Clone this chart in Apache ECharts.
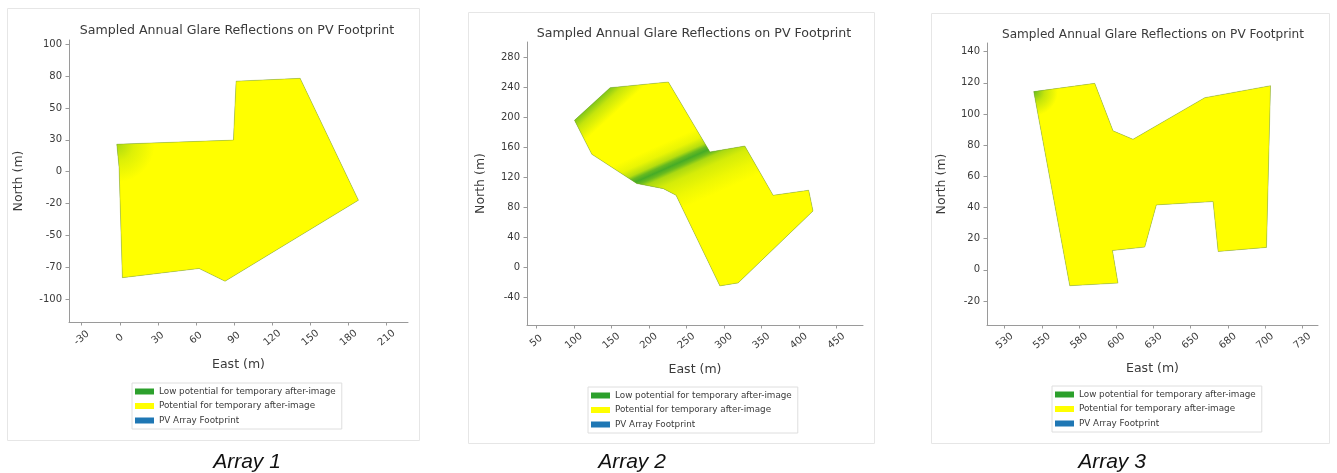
<!DOCTYPE html>
<html>
<head>
<meta charset="utf-8">
<script src="https://cdn.jsdelivr.net/npm/echarts@6/dist/echarts.min.js"></script>
<style>
  html, body { margin: 0; padding: 0; background: #ffffff; }
  #chart { width: 1337px; height: 473px; }
</style>
</head>
<body>
<div id="chart"></div>
<script>
// ---- Array 1 ----
const array1Footprint = [[-2.4, 21.6], [89.4, 24.8], [91.5, 71.1], [141.9, 73.3], [187.8, -22.4],
  [82.8, -86], [62.4, -76], [2, -83.2], [-0.6, 3.5]];
const array1LowGlareSpot = [-2.4, 21.6];
const array1XTicks = [-30, 0, 30, 60, 90, 120, 150, 180, 210];
const array1XLabels = ['-30', '0', '30', '60', '90', '120', '150', '180', '210'];
const array1YTicks = [-100, -75, -50, -25, 0, 25, 50, 75, 100];
const array1YLabels = ['-100', '-70', '-50', '-20', '0', '30', '50', '80', '100'];

// ---- Array 2 ----
const array2Footprint = [[100.9, 195.9], [148.4, 239.3], [226, 246.8], [281.4, 153.8], [327.9, 161.7],
  [365.6, 96.2], [413, 102.9], [418.8, 75.3], [319, -20.3], [294.7, -24.3], [236.2, 96.2],
  [219.3, 105], [183.9, 111.8], [124, 150.7]];
const array2LowGlareBand = [[199.6, 208.9], [264.8, 63.1]];
const array2LowGlareEdge = [[100.9, 195.9], [148.4, 239.3]];
const array2XTicks = [50, 100, 150, 200, 250, 300, 350, 400, 450];
const array2XLabels = ['50', '100', '150', '200', '250', '300', '350', '400', '450'];
const array2YTicks = [-40, 0, 40, 80, 120, 160, 200, 240, 280];
const array2YLabels = ['-40', '0', '40', '80', '120', '160', '200', '240', '280'];

// ---- Array 3 ----
const array3Footprint = [[544.5, 114.4], [585.5, 119.7], [597.8, 89.2], [611.2, 83.8], [659.4, 110.5],
  [703.6, 118.2], [700.9, 14.4], [668.4, 11.8], [665, 43.8], [626.9, 41.7], [619.1, 14.6],
  [597.4, 12.4], [601.1, -8.5], [568.7, -10.2]];
const array3LowGlareSpot = [544.5, 114.4];
const array3XTicks = [525, 550, 575, 600, 625, 650, 675, 700, 725];
const array3XLabels = ['530', '550', '580', '600', '630', '650', '680', '700', '730'];
const array3YTicks = [-20, 0, 20, 40, 60, 80, 100, 120, 140];
const array3YLabels = ['-20', '0', '20', '40', '60', '80', '100', '120', '140'];

const captions = ['Array 1', 'Array 2', 'Array 3'];
const legendNames = ['Low potential for temporary after-image', 'Potential for temporary after-image', 'PV Array Footprint'];
const chartTitle = 'Sampled Annual Glare Reflections on PV Footprint';

const GREEN = '#2ca02c', YELLOW = '#ffff00', BLUE = '#1f77b4';
const FONT = 'DejaVu Sans';
const TEXT = '#3a3a3a', AXIS = '#9a9a9a';

const g = (a) => 'rgba(44,160,44,' + a + ')';

// panel geometry (pixels)
const panels = [
  { grid: { left: 69, top: 40, width: 339, height: 282 }, x: [-40, 226.8], y: [-118, 103.4],
    xt: array1XTicks, xl: array1XLabels, yt: array1YTicks, yl: array1YLabels,
    titleX: 232, titleY: 19, titleSize: 12.6, xGap: 36, yGap: 44,
    legend: { left: 132, top: 383 }, frame: [7, 8, 412, 432], caption: [247, 462] },
  { grid: { left: 527, top: 42, width: 336, height: 283 }, x: [37.6, 485.4], y: [-76.3, 300],
    xt: array2XTicks, xl: array2XLabels, yt: array2YTicks, yl: array2YLabels,
    titleX: 689, titleY: 22, titleSize: 12.6, xGap: 38, yGap: 40,
    legend: { left: 588, top: 387 }, frame: [468, 12, 406, 431], caption: [632, 462] },
  { grid: { left: 987, top: 43, width: 331, height: 282 }, x: [513.1, 735.5], y: [-35.4, 145.6],
    xt: array3XTicks, xl: array3XLabels, yt: array3YTicks, yl: array3YLabels,
    titleX: 1148, titleY: 24, titleSize: 12.1, xGap: 37, yGap: 39,
    legend: { left: 1052, top: 386 }, frame: [931, 13, 398, 430], caption: [1112, 462] }
];

function labelFor(ticks, labels) {
  return function (v) {
    let best = 0;
    for (let i = 1; i < ticks.length; i++) {
      if (Math.abs(ticks[i] - v) < Math.abs(ticks[best] - v)) best = i;
    }
    return labels[best];
  };
}

// polygon drawn once from all vertices, through the axis scales
function polygonSeries(name, idx, pts, z, styleFn) {
  return {
    type: 'custom', name: name, xAxisIndex: idx, yAxisIndex: idx, z: z, silent: true,
    data: pts, encode: { x: 0, y: 1 },
    renderItem: function (params, api) {
      if (params.dataIndex !== 0) return null;
      const px = pts.map(p => api.coord(p));
      return styleFn(px, api);
    }
  };
}

function spotOverlay(spot, radius, alpha) {
  return function (px, api) {
    const c = api.coord(spot);
    return {
      type: 'polygon', shape: { points: px },
      style: { fill: new echarts.graphic.RadialGradient(c[0], c[1], radius,
        [{ offset: 0, color: g(alpha) }, { offset: 0.45, color: g(alpha * 0.4) }, { offset: 1, color: g(0) }], true) }
    };
  };
}

function array2Overlay(px, api) {
  const a = api.coord(array2LowGlareBand[0]);
  const b = api.coord(array2LowGlareBand[1]);
  const band = new echarts.graphic.LinearGradient(a[0], a[1], b[0], b[1], [
    { offset: 0, color: g(0) }, { offset: 0.3, color: g(0) }, { offset: 0.38, color: g(0.1) },
    { offset: 0.44, color: g(0.35) }, { offset: 0.47, color: g(0.72) }, { offset: 0.5, color: g(0.88) },
    { offset: 0.53, color: g(0.7) }, { offset: 0.56, color: g(0.4) }, { offset: 0.63, color: g(0.2) },
    { offset: 0.75, color: g(0.08) }, { offset: 0.86, color: g(0) }, { offset: 1, color: g(0) }
  ], true);
  // strip of lower glare along the north-west edge
  const e0 = api.coord(array2LowGlareEdge[0]);
  const e1 = api.coord(array2LowGlareEdge[1]);
  const mx = (e0[0] + e1[0]) / 2, my = (e0[1] + e1[1]) / 2;
  let nx = -(e1[1] - e0[1]), ny = e1[0] - e0[0];
  const len = Math.hypot(nx, ny); nx /= len; ny /= len;
  if (nx < 0) { nx = -nx; ny = -ny; }
  const edge = new echarts.graphic.LinearGradient(mx, my, mx + nx * 22, my + ny * 22, [
    { offset: 0, color: g(0.6) }, { offset: 0.35, color: g(0.28) }, { offset: 1, color: g(0) }
  ], true);
  return {
    type: 'group', children: [
      { type: 'polygon', shape: { points: px }, style: { fill: band } },
      { type: 'polygon', shape: { points: px }, style: { fill: edge } }
    ]
  };
}

const footprints = [array1Footprint, array2Footprint, array3Footprint];
const overlays = [spotOverlay(array1LowGlareSpot, 38, 0.4), array2Overlay, spotOverlay(array3LowGlareSpot, 24, 0.7)];

const option = {
  backgroundColor: '#ffffff',
  animation: false,
  title: panels.map(p => ({
    text: chartTitle, left: p.titleX, top: p.titleY, textAlign: 'center',
    textStyle: { fontFamily: FONT, fontSize: p.titleSize, fontWeight: 'normal', color: TEXT }
  })),
  grid: panels.map(p => Object.assign({ containLabel: false }, p.grid)),
  xAxis: panels.map((p, i) => ({
    type: 'value', gridIndex: i, min: p.x[0], max: p.x[1],
    name: 'East (m)', nameLocation: 'middle', nameGap: p.xGap,
    nameTextStyle: { fontFamily: FONT, fontSize: 12.5, color: TEXT },
    axisLine: { show: true, onZero: false, lineStyle: { color: AXIS, width: 1 } },
    axisTick: { show: true, length: 3.5, customValues: p.xt, lineStyle: { color: AXIS } },
    axisLabel: { customValues: p.xt, formatter: labelFor(p.xt, p.xl), rotate: 40, align: 'center',
      verticalAlign: 'middle', margin: 16, fontFamily: FONT, fontSize: 10, color: TEXT },
    splitLine: { show: false }
  })),
  yAxis: panels.map((p, i) => ({
    type: 'value', gridIndex: i, min: p.y[0], max: p.y[1],
    name: 'North (m)', nameLocation: 'middle', nameGap: p.yGap, nameRotate: 90,
    nameTextStyle: { fontFamily: FONT, fontSize: 12.5, color: TEXT },
    axisLine: { show: true, onZero: false, lineStyle: { color: AXIS, width: 1 } },
    axisTick: { show: true, length: 3.5, customValues: p.yt, lineStyle: { color: AXIS } },
    axisLabel: { customValues: p.yt, formatter: labelFor(p.yt, p.yl), margin: 7,
      fontFamily: FONT, fontSize: 10, color: TEXT },
    splitLine: { show: false }
  })),
  legend: panels.map(p => ({
    left: p.legend.left, top: p.legend.top, orient: 'vertical',
    itemWidth: 19, itemHeight: 6, itemGap: 3.5, icon: 'rect',
    padding: [3, 6, 3, 3], borderColor: '#dedede', borderWidth: 1,
    selectedMode: false,
    textStyle: { fontFamily: FONT, fontSize: 8.8, color: TEXT, lineHeight: 11 },
    data: [
      { name: legendNames[0], itemStyle: { color: GREEN } },
      { name: legendNames[1], itemStyle: { color: YELLOW } },
      { name: legendNames[2], itemStyle: { color: BLUE } }
    ]
  })),
  series: [].concat(...footprints.map((pts, i) => [
    polygonSeries(legendNames[2], i, pts, 1, px => ({
      type: 'polygon', shape: { points: px }, style: { fill: BLUE, stroke: null }
    })),
    polygonSeries(legendNames[1], i, pts, 2, px => ({
      type: 'polygon', shape: { points: px }, style: { fill: YELLOW, stroke: 'rgba(150,170,40,0.5)', lineWidth: 0.8 }
    })),
    polygonSeries(legendNames[0], i, pts, 3, overlays[i])
  ])),
  graphic: [].concat(
    panels.map(p => ({
      type: 'rect', z: -10, silent: true,
      shape: { x: p.frame[0] + 0.5, y: p.frame[1] + 0.5, width: p.frame[2], height: p.frame[3] },
      style: { fill: '#ffffff', stroke: '#e6e6e6', lineWidth: 1 }
    })),
    panels.map((p, i) => ({
      type: 'text', silent: true, x: p.caption[0], y: p.caption[1],
      style: { text: captions[i], fontFamily: 'Liberation Sans', fontStyle: 'italic', fontSize: 21,
        fill: '#111111', align: 'center', verticalAlign: 'middle' }
    }))
  )
};

const chart = echarts.init(document.getElementById('chart'), null, { renderer: 'canvas' });
chart.setOption(option);
</script>
</body>
</html>
